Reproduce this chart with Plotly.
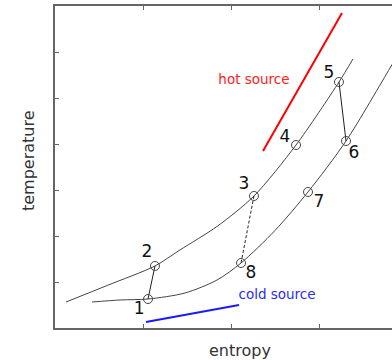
import plotly.graph_objects as go

# upper curve (through states 2-3-4-5)
upper_s = [0.125, 0.60, 1.136, 1.42, 1.85, 2.261, 2.739, 3.227, 3.386]
upper_T = [0.565, 0.93, 1.348, 1.696, 2.22, 2.870, 3.978, 5.348, 5.848]
# lower curve (through states 1-8-7-6)
lower_s = [0.420, 0.739, 1.057, 1.477, 1.841, 2.114, 2.50, 2.875, 3.307, 3.807, 3.90]
lower_T = [0.565, 0.609, 0.630, 0.761, 1.043, 1.413, 2.12, 2.957, 4.065, 5.652, 5.95]

# state points
state_labels = ["1", "2", "3", "4", "5", "6", "7", "8"]
state_s = [1.057, 1.136, 2.261, 2.739, 3.227, 3.307, 2.875, 2.114]
state_T = [0.630, 1.348, 2.870, 3.978, 5.348, 4.065, 2.957, 1.413]
label_s = [0.955, 1.045, 2.148, 2.614, 3.114, 3.398, 3.000, 2.227]
label_T = [0.391, 1.630, 3.109, 4.130, 5.522, 3.783, 2.717, 1.174]

# sources
hot_s = [2.364, 3.261]
hot_T = [3.848, 6.848]
cold_s = [1.034, 2.091]
cold_T = [0.130, 0.500]
source_text = ["hot source", "cold source"]
source_s = [2.261, 2.523]
source_T = [5.370, 0.696]

curve_col = "#444444"
fig = go.Figure()
fig.add_trace(go.Scatter(x=upper_s, y=upper_T, mode="lines",
                         line=dict(color=curve_col, width=1, shape="spline", smoothing=0.8)))
fig.add_trace(go.Scatter(x=lower_s, y=lower_T, mode="lines",
                         line=dict(color=curve_col, width=1, shape="spline", smoothing=0.8)))
# process links
idx = {l: i for i, l in enumerate(state_labels)}
for a, b, dash in [("1", "2", "solid"), ("5", "6", "solid"), ("3", "8", "dash")]:
    fig.add_trace(go.Scatter(x=[state_s[idx[a]], state_s[idx[b]]],
                             y=[state_T[idx[a]], state_T[idx[b]]], mode="lines",
                             line=dict(color="#222222", width=1, dash="3px,2px" if dash == "dash" else "solid")))
fig.add_trace(go.Scatter(x=state_s, y=state_T, mode="markers",
                         marker=dict(symbol="circle-open", size=9, color="#444444",
                                     line=dict(width=1, color="#444444"))))
fig.add_trace(go.Scatter(x=label_s, y=label_T, mode="text", text=state_labels,
                         textfont=dict(family="DejaVu Sans", size=17, color="#111111")))
fig.add_trace(go.Scatter(x=hot_s, y=hot_T, mode="lines", line=dict(color="#ff0000", width=2)))
fig.add_trace(go.Scatter(x=cold_s, y=cold_T, mode="lines", line=dict(color="#1a1aff", width=2)))
fig.add_trace(go.Scatter(x=source_s, y=source_T, mode="text", text=source_text,
                         textfont=dict(family="DejaVu Sans", size=13.5, color=["#ff2020", "#2a2aff"])))

axis_col = "#666666"
fig.update_xaxes(range=[0, 337 / 88], showgrid=False, zeroline=False, showline=True,
                 linecolor=axis_col, linewidth=1.5, mirror="ticks", ticks="inside",
                 ticklen=4, tickcolor=axis_col, tickwidth=1, tickvals=[1, 2, 3],
                 showticklabels=False, automargin=False)
fig.update_yaxes(range=[0, 7], showgrid=False, zeroline=False, showline=True,
                 linecolor=axis_col, linewidth=1.5, ticks="inside", ticklen=4,
                 tickcolor=axis_col, tickwidth=1, tickvals=[1, 2, 3, 4, 5, 6],
                 showticklabels=False, automargin=False)
fig.update_layout(
    width=392, height=360, showlegend=False,
    margin=dict(l=55, r=0, t=6, b=32, autoexpand=False),
    paper_bgcolor="white", plot_bgcolor="white",
    font=dict(family="DejaVu Sans", color="#333333"),
    annotations=[
        dict(text="entropy", xref="paper", yref="paper", x=(240 - 55) / 337, y=-(350 - 328) / 322,
             showarrow=False, xanchor="center", yanchor="middle",
             font=dict(size=16, color="#333333")),
        dict(text="temperature", xref="paper", yref="paper", x=-(55 - 28) / 337, y=(328 - 161) / 322,
             showarrow=False, xanchor="center", yanchor="middle", textangle=-90,
             font=dict(size=16, color="#333333")),
    ],
)
fig.write_html("out.html", post_script="document.body.style.margin='0';",
               config={"displayModeBar": False})
